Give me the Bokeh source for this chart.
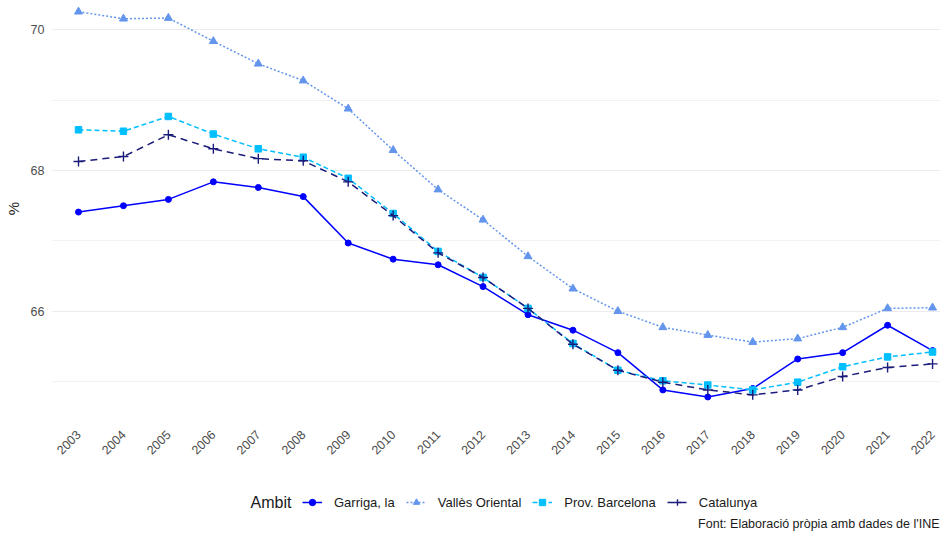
from math import pi
from bokeh.plotting import figure
from bokeh.layouts import column
from bokeh.models import Range1d, FixedTicker, Legend, LegendItem, Label
from bokeh.embed import file_html
from bokeh.resources import INLINE

years = list(range(2003, 2023))
garriga = [67.41, 67.50, 67.59, 67.84, 67.76, 67.63, 66.97, 66.74, 66.66, 66.35,
           65.95, 65.73, 65.41, 64.88, 64.78, 64.90, 65.32, 65.41, 65.80, 65.44]
valles = [70.26, 70.16, 70.17, 69.84, 69.52, 69.28, 68.88, 68.29, 67.73, 67.30,
          66.78, 66.32, 66.00, 65.77, 65.66, 65.56, 65.61, 65.77, 66.04, 66.05]
barcelona = [68.58, 68.56, 68.77, 68.52, 68.31, 68.19, 67.89, 67.39, 66.85, 66.48,
             66.04, 65.54, 65.16, 65.01, 64.95, 64.88, 64.99, 65.21, 65.35, 65.42]
catalunya = [68.13, 68.20, 68.51, 68.31, 68.17, 68.14, 67.84, 67.36, 66.83, 66.48,
             66.04, 65.53, 65.16, 64.99, 64.88, 64.81, 64.88, 65.07, 65.20, 65.25]
series_names = ["Garriga, la", "Vallès Oriental", "Prov. Barcelona", "Catalunya"]
y_major = [66, 68, 70]
y_minor = [65, 67, 69]
y_label = "%"
legend_title = "Ambit"
caption = "Font: Elaboració pròpia amb dades de l'INE"

FONT = "Liberation Sans"

p = figure(width=940, height=464, output_backend="svg", toolbar_location=None,
           x_range=Range1d(2002.4216, 2022.177), y_range=Range1d(64.502, 70.4196),
           min_border_left=52, min_border_right=0, min_border_top=0, min_border_bottom=48)
p.outline_line_color = None

p.xgrid.grid_line_color = None
p.ygrid.grid_line_color = "#EBEBEB"
p.ygrid.grid_line_width = 1.1
p.ygrid.minor_grid_line_color = "#F0F0F0"
p.ygrid.minor_grid_line_width = 0.9

p.yaxis.ticker = FixedTicker(ticks=y_major, minor_ticks=y_minor)
p.xaxis.ticker = FixedTicker(ticks=years)
for ax in (p.xaxis, p.yaxis):
    ax.axis_line_color = None
    ax.major_tick_line_color = None
    ax.minor_tick_line_color = None
    ax.major_tick_out = 0
    ax.major_tick_in = 0
    ax.minor_tick_out = 0
    ax.minor_tick_in = 0
    ax.major_label_text_font = FONT
    ax.major_label_text_font_size = "12.5px"
    ax.major_label_text_color = "#4D4D4D"
p.yaxis.major_label_standoff = 8
p.yaxis.axis_label = y_label
p.yaxis.axis_label_standoff = 6
p.yaxis.axis_label_text_font = FONT
p.yaxis.axis_label_text_font_size = "15px"
p.yaxis.axis_label_text_font_style = "normal"
p.yaxis.axis_label_text_color = "#222222"
p.xaxis.major_label_orientation = pi / 4
p.xaxis.major_label_standoff = 16

styles = [
    (garriga, "#0000FF", "solid", "circle", 6),
    (valles, "#6495ED", "2 2", "triangle", 8),
    (barcelona, "#00BFFF", "5 3", "square", 6.5),
    (catalunya, "#1B1B7A", "7 5", "cross", 10),
]

# axis-less strip below the chart for the legend and caption
# (its frame is aligned with the chart's frame, which starts 52px from the left)
q = figure(width=940, height=67, output_backend="svg", toolbar_location=None,
           x_range=Range1d(0, 1), y_range=Range1d(0, 1),
           x_axis_type=None, y_axis_type=None, min_border=0)
q.outline_line_color = None
q.grid.visible = False

items = []
for (vals, col, dash, marker, size), name in zip(styles, series_names):
    p.line(years, vals, line_color=col, line_width=1.5, line_dash=dash)
    if marker == "cross":
        p.scatter(years, vals, marker=marker, size=size, line_color=col, line_width=1.4)
        sr = q.scatter([-5], [-5], marker=marker, size=size, line_color=col, line_width=1.4)
    else:
        p.scatter(years, vals, marker=marker, size=size, fill_color=col, line_color=col)
        sr = q.scatter([-5], [-5], marker=marker, size=size, fill_color=col, line_color=col)
    lr = q.line([-5, -4], [-5, -5], line_color=col, line_width=1.5, line_dash=dash)
    items.append(LegendItem(label=name, renderers=[lr, sr]))

legend = Legend(items=items, location=(250, 21), orientation="horizontal",
                padding=0, margin=0, spacing=11,
                glyph_width=20, glyph_height=16, label_standoff=12, label_height=16,
                label_text_font=FONT, label_text_font_size="13px", label_text_color="#1A1A1A",
                border_line_color=None, background_fill_alpha=0)
q.add_layout(legend)

q.add_layout(Label(x=198, y=29, x_units="screen", y_units="screen", text=legend_title,
                   text_align="left", text_baseline="middle",
                   text_font=FONT, text_font_size="16px", text_color="#1A1A1A"))
q.add_layout(Label(x=887, y=8, x_units="screen", y_units="screen", text=caption,
                   text_align="right", text_baseline="middle",
                   text_font=FONT, text_font_size="12.5px", text_color="#1A1A1A"))

layout = column(p, q, spacing=0)
open("out.html", "w").write(file_html(layout, INLINE))
